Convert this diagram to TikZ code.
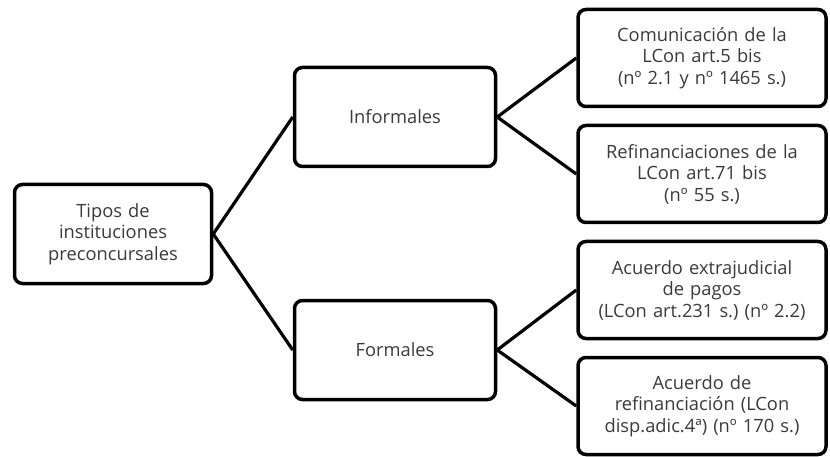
\documentclass[tikz,border=0pt]{standalone}
\usepackage{fontspec}
\setmainfont{Open Sans}
\usepackage{xcolor}
\usetikzlibrary{positioning}
\frenchspacing
\definecolor{textgray}{HTML}{3A3A3A}
\tikzstyle{line} = [line width=3.2pt]
\tikzstyle{block} = [rectangle, draw, line width=3.5pt, rounded corners=8pt, inner xsep=0pt, text centered, text=textgray, font=\fontsize{18.3}{21.5}\selectfont]
\tikzstyle{leaf} = [block, text width=248pt, minimum height=97pt]
\tikzstyle{branch} = [block, text width=201pt, minimum height=99pt]
\tikzset{every node/.style={align=center}}

\begin{document}
\begin{tikzpicture}[x=1pt, y=1pt, node distance=116pt]
    \useasboundingbox (0,0) rectangle (830,-457);
    \node (tipos) [block, text width=197pt, minimum height=99pt] at (113,-234) {Tipos de\\instituciones\\preconcursales};
    \node (inf) [branch, right of=tipos, xshift=166pt, yshift=117pt] {Informales};
    \node (form) [branch, right of=tipos, xshift=166pt, yshift=-116pt] {Formales};
    \node (com) [leaf, right of=inf, xshift=191pt, yshift=59pt] {Comunicación de la\\LCon art.5 bis\\(nº 2.1 y nº 1465 s.)};
    \node (refi) [leaf, below of=com] {Refinanciaciones de la\\LCon art.71 bis\\(nº 55 s.)};
    \node (extra) [leaf, below of=refi] {Acuerdo extrajudicial\\de pagos\\(LCon art.231 s.) (nº 2.2)};
    \node (acu) [leaf, below of=extra] {Acuerdo de\\refinanciación (LCon\\disp.adic.4ª) (nº 170 s.)};

    \draw [line] (tipos.east) -- (inf.west);
    \draw [line] (tipos.east) -- (form.west);
    \draw [line] (inf.east) -- (com.west);
    \draw [line] (inf.east) -- (refi.west);
    \draw [line] (form.east) -- (extra.west);
    \draw [line] (form.east) -- (acu.west);
\end{tikzpicture}
\end{document}
